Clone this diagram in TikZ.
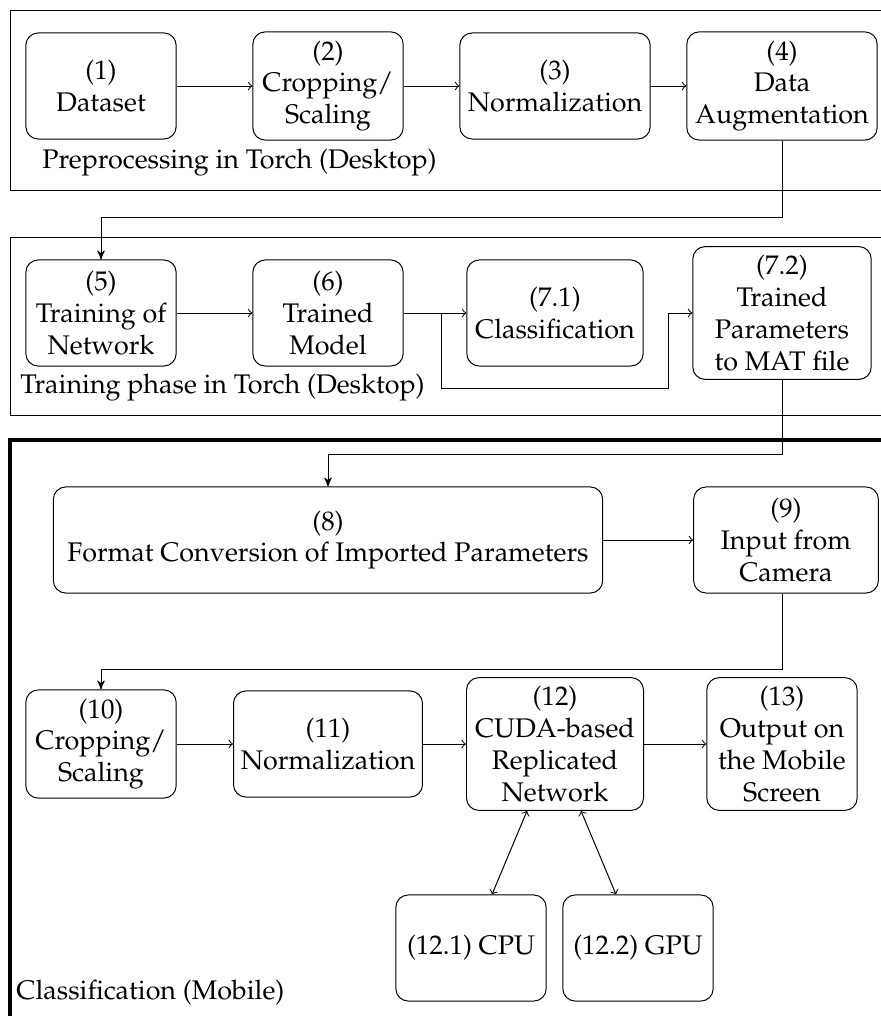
\documentclass[tikz,border=0pt]{standalone}
\usepackage[T1]{fontenc}
\usepackage{mathpazo}
\usetikzlibrary{arrows,positioning}

\tikzset{
  stage/.style={draw, rounded corners=5pt, align=center, inner sep=2pt,
    minimum width=2.14cm, minimum height=1.51cm},
  caption/.style={anchor=west, inner sep=0pt},
  feed/.style={-stealth'}
}

\begin{document}
\begin{tikzpicture}[x=0.01424cm, y=-0.01424cm, >=to,
    font=\fontsize{10.9}{12.9}\selectfont]
  \clip (0,0) rectangle (881,1016);
  % frames
  \draw (10,11) rectangle (900,190);
  \draw (10,237) rectangle (900,415);
  \draw[line width=1.5pt] (10,440) rectangle (900,1040);

  % preprocessing
  \node[stage] (data) at (101,86) {(1)\\Dataset};
  \node[stage, minimum height=1.54cm] (crop) at (328,86) {(2)\\Cropping/\\Scaling};
  \node[stage, minimum width=2.71cm] (norm) at (555,86) {(3)\\Normalization};
  \node[stage, minimum width=2.71cm, minimum height=1.54cm] (aug) at (782,86) {(4)\\Data\\Augmentation};
  \node[caption] (lblpre) at (42,163) {Preprocessing in Torch (Desktop)};

  % training
  \node[stage] (train) at (101,313) {(5)\\Training of\\Network};
  \node[stage] (model) at (328,313) {(6)\\Trained\\Model};
  \node[stage, minimum width=2.51cm] (cls) at (555,313) {(7.1)\\Classification};
  \node[stage, minimum width=2.54cm, minimum height=1.89cm] (params) at (782,313) {(7.2)\\Trained\\Parameters\\to MAT file};
  \node[caption] (lbltrain) at (20,388) {Training phase in Torch (Desktop)};

  % mobile
  \node[stage, minimum width=7.82cm] (conv) at (328,540) {(8)\\Format Conversion of Imported Parameters};
  \node[stage, minimum width=2.63cm] (cam) at (786,540) {(9)\\Input from\\Camera};
  \node[stage, minimum height=1.54cm] (crop2) at (101,744) {(10)\\Cropping/\\Scaling};
  \node[stage, minimum width=2.69cm] (norm2) at (328,744) {(11)\\Normalization};
  \node[stage, minimum width=2.52cm, minimum height=1.89cm] (cuda) at (555,744) {(12)\\CUDA-based\\Replicated\\Network};
  \node[stage, minimum height=1.89cm] (screen) at (782,744) {(13)\\Output on\\the Mobile\\Screen};
  \node[stage] (cpu) at (471,948) {(12.1) CPU};
  \node[stage] (gpu) at (638,948) {(12.2) GPU};
  \node[caption] (lblmob) at (16,993) {Classification (Mobile)};

  % connectors
  \draw[->] (data) -- (crop);
  \draw[->] (crop) -- (norm);
  \draw[->] (norm) -- (aug);
  \draw[feed] (aug.south) -- ++(0,77) -| (train.north);
  \draw[->] (train) -- (model);
  \draw[->] (model) -- (cls);
  \draw[->] (model.east) -- ++(38,0) |- ++(227,75) |- (params.west);
  \draw[feed] (params.south) -- ++(0,75) -| (conv.north);
  \draw[->] (conv) -- (cam);
  \draw[feed] ([shift={(-4,0)}]cam.south) -- ++(0,76) -| (crop2.north);
  \draw[->] (crop2) -- (norm2);
  \draw[->] (norm2) -- (cuda);
  \draw[->] (cuda) -- (screen);
  \draw[<->] ([shift={(-28,0)}]cuda.south) -- ([shift={(21,0)}]cpu.north);
  \draw[<->] ([shift={(26,0)}]cuda.south) -- ([shift={(-22,0)}]gpu.north);
\end{tikzpicture}
\end{document}
